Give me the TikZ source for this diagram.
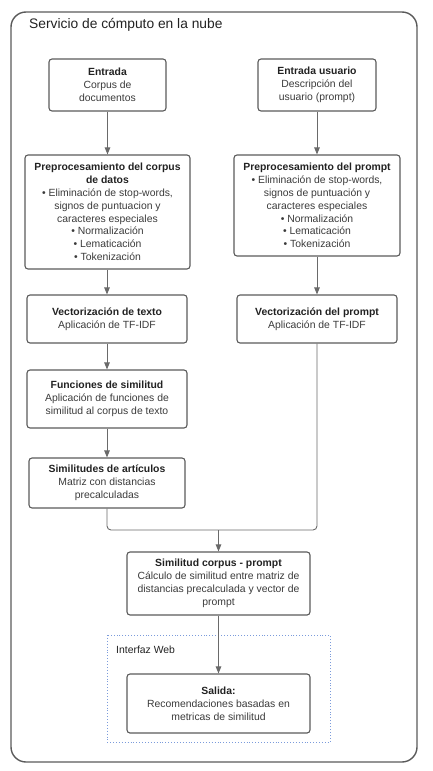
\documentclass[tikz,border=0pt]{standalone}
\usepackage{fontspec}
\setmainfont{Liberation Sans}
\usetikzlibrary{arrows.meta}
\definecolor{boxline}{HTML}{5A5A5A}
\definecolor{connc}{HTML}{6A6A6A}
\definecolor{txt}{HTML}{3A3A3A}
\definecolor{boldtxt}{HTML}{222222}
\definecolor{webline}{HTML}{7B9BDB}
\newcommand{\hd}[1]{{\bfseries\color{boldtxt}#1}}
\begin{document}
\begin{tikzpicture}[x=1pt,y=-1pt,
  box/.style={draw=boxline, line width=1.1pt, rounded corners=3pt, align=center,
    inner sep=2pt, font=\fontsize{10.4}{12.8}\selectfont, text=txt},
  conn/.style={draw=connc, line width=0.9pt, -{Triangle[length=7pt,width=5.5pt]}},
  plainconn/.style={draw=connc, line width=0.9pt, rounded corners=4pt},
]
\useasboundingbox (0,0) rectangle (432,771);
\draw[draw=boxline, line width=1.4pt, rounded corners=15pt] (11,12) rectangle (417,762);
\node[anchor=west, inner sep=0pt, font=\fontsize{13.8}{15}\selectfont, text=boldtxt] (title) at (29,25) {Servicio de cómputo en la nube};

\node[box, minimum width=117pt, minimum height=52pt] (e1) at (107.5,85)
  {\hd{Entrada}\\Corpus de\\documentos};
\node[box, minimum width=118pt, minimum height=52pt] (e2) at (317,85)
  {\hd{Entrada usuario}\\Descripción del\\usuario (prompt)};

\node[box, minimum width=165pt, minimum height=114pt] (p1) at (107.5,212)
  {\hd{Preprocesamiento del corpus}\\\hd{de datos}\\• Eliminación de stop-words,\\signos de puntuacion y\\caracteres especiales\\• Normalización\\• Lematicación\\• Tokenización};
\node[box, minimum width=166pt, minimum height=101pt] (p2) at (317,205.5)
  {\hd{Preprocesamiento del prompt}\\• Eliminación de stop-words,\\signos de puntuación y\\caracteres especiales\\• Normalización\\• Lematicación\\• Tokenización};

\node[box, minimum width=160pt, minimum height=48pt] (v1) at (107,319)
  {\hd{Vectorización de texto}\\Aplicación de TF-IDF};
\node[box, minimum width=160pt, minimum height=48pt] (v2) at (317,319)
  {\hd{Vectorización del prompt}\\Aplicación de TF-IDF};

\node[box, minimum width=160pt, minimum height=58pt] (f1) at (107,399)
  {\hd{Funciones de similitud}\\Aplicación de funciones de\\similitud al corpus de texto};
\node[box, minimum width=156pt, minimum height=50pt] (s1) at (107,483)
  {\hd{Similitudes de artículos}\\Matriz con distancias\\precalculadas};

\node[box, minimum width=183pt, minimum height=63pt] (sc) at (218.5,583.5)
  {\hd{Similitud corpus - prompt}\\Cálculo de similitud entre matriz de\\distancias precalculada y vector de\\prompt};

\draw[draw=webline, line width=0.9pt, dotted] (107,635) rectangle (330,742);
\node[anchor=west, inner sep=0pt, font=\fontsize{10.4}{12.8}\selectfont, text=boldtxt] (web) at (116,650) {Interfaz Web};

\node[box, minimum width=183pt, minimum height=59pt] (out) at (218.5,703.5)
  {\hd{Salida:}\\Recomendaciones basadas en\\metricas de similitud};

\coordinate (j) at (218.5,530);

\draw[conn] (e1.south) -- (p1.north);
\draw[conn] (e2.south) -- (p2.north);
\draw[conn] (p1.south -| v1.north) -- (v1.north);
\draw[conn] (p2.south) -- (v2.north);
\draw[conn] (v1.south) -- (f1.north);
\draw[conn] (f1.south) -- (s1.north);
\draw[plainconn] (s1.south) |- (j);
\draw[plainconn] (v2.south) |- (j);
\draw[conn] (j) -- (sc.north);
\draw[conn] (sc.south) -- (out.north);
\end{tikzpicture}
\end{document}
